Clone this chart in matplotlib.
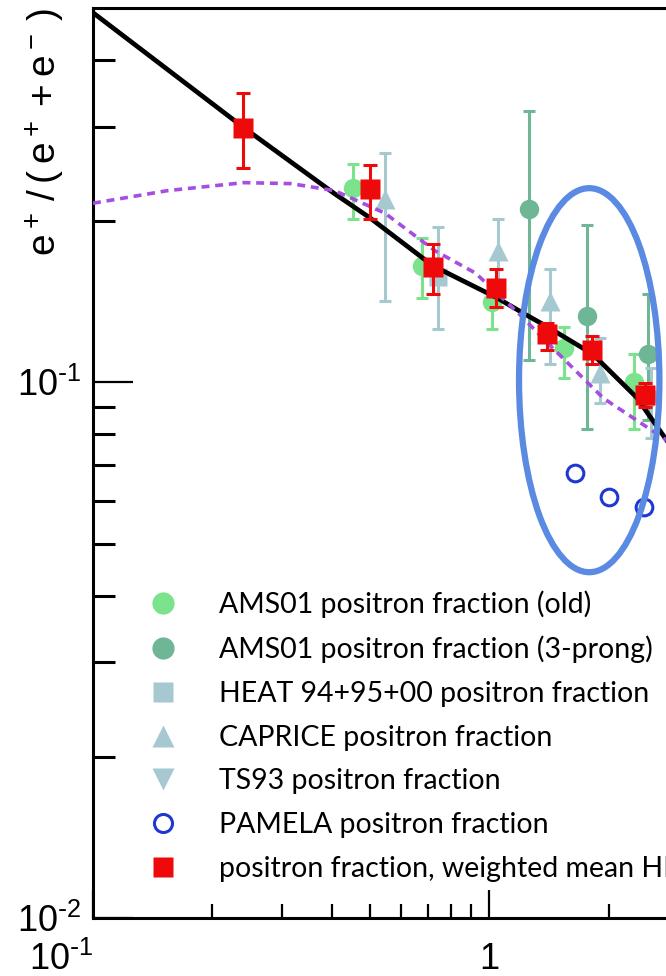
import matplotlib
matplotlib.use("Agg")
import matplotlib.pyplot as plt
from matplotlib.lines import Line2D
from matplotlib.patches import Ellipse
from matplotlib.ticker import FixedLocator, FixedFormatter, NullFormatter

plt.rcParams['font.family'] = ['Liberation Sans', 'DejaVu Sans']
plt.rcParams['mathtext.default'] = 'regular'

# model curves
model_x = [0.1, 0.24, 0.407, 0.499, 0.721, 1.042, 1.21, 1.40, 1.82, 2.35, 2.80]
model_y = [0.490, 0.299, 0.225, 0.203, 0.165, 0.144, 0.135, 0.127, 0.113, 0.0938, 0.078]
dash_x = [0.1, 0.154, 0.24, 0.316, 0.407, 0.545, 0.73, 0.922, 1.18, 1.41, 1.94, 2.80]
dash_y = [0.216, 0.228, 0.236, 0.235, 0.228, 0.207, 0.176, 0.160, 0.135, 0.118, 0.0934, 0.078]

# AMS01 (old)
ams_old_x = [0.452, 0.676, 1.018, 1.54, 2.32]
ams_old_y = [0.231, 0.165, 0.141, 0.116, 0.100]
ams_old_lo = [0.202, 0.144, 0.126, 0.102, 0.082]
ams_old_hi = [0.256, 0.186, 0.147, 0.127, 0.113]

# AMS01 (3-prong)
ams3_x = [1.26, 1.76, 2.52]
ams3_y = [0.211, 0.133, 0.113]
ams3_lo = [0.110, 0.082, 0.085]
ams3_hi = [0.321, 0.197, 0.146]

# HEAT
heat_x = [0.74]
heat_y = [0.157]
heat_lo = [0.126]
heat_hi = [0.195]

# CAPRICE
cap_x = [0.545, 1.05, 1.42, 1.90]
cap_y = [0.220, 0.176, 0.142, 0.104]
cap_lo = [0.142, 0.138, 0.108, 0.0914]
cap_hi = [0.268, 0.202, 0.163, 0.121]

# TS93
ts_x = [2.56]
ts_y = [0.0926]
ts_lo = [0.0786]
ts_hi = [0.1066]

# PAMELA
pam_x = [1.64, 2.00, 2.46]
pam_y = [0.0676, 0.0610, 0.0585]

# weighted mean
wm_x = [0.239, 0.499, 0.721, 1.042, 1.40, 1.82, 2.47]
wm_y = [0.299, 0.230, 0.164, 0.150, 0.123, 0.115, 0.0946]
wm_lo = [0.251, 0.202, 0.146, 0.138, 0.115, 0.108, 0.0898]
wm_hi = [0.347, 0.255, 0.181, 0.163, 0.129, 0.122, 0.0996]

labels = ['AMS01 positron fraction (old)',
          'AMS01 positron fraction (3-prong)',
          'HEAT 94+95+00 positron fraction',
          'CAPRICE positron fraction',
          'TS93 positron fraction',
          'PAMELA positron fraction',
          'positron fraction, weighted mean HEAT+AMS01']

c_old = '#7be38c'
c_3p = '#6fb697'
c_lb = '#a6c9d1'
c_red = '#ee0a0a'
c_pam = '#2038d0'


def yerr(y, lo, hi):
    return [[a - b for a, b in zip(y, lo)], [b - a for a, b in zip(y, hi)]]


fig = plt.figure(figsize=(6.66, 9.76), dpi=100)
ax = fig.add_axes([93 / 666, 1 - 918 / 976, 573 / 666, 910 / 976])
ax.set_xscale('log')
ax.set_yscale('log')
ax.set_xlim(0.1, 2.79)
ax.set_ylim(0.01, 0.5)

eb = dict(linestyle='none', capsize=4, elinewidth=2.2, capthick=2.2, zorder=2)
ax.errorbar(ams3_x, ams3_y, yerr=yerr(ams3_y, ams3_lo, ams3_hi), marker='o', ms=14,
            color=c_3p, mec='none', **eb)
ax.errorbar(cap_x, cap_y, yerr=yerr(cap_y, cap_lo, cap_hi), marker='^', ms=15,
            color=c_lb, mec='none', **eb)
ax.errorbar(heat_x, heat_y, yerr=yerr(heat_y, heat_lo, heat_hi), marker='s', ms=13,
            color=c_lb, mec='none', **eb)
ax.errorbar(ts_x, ts_y, yerr=yerr(ts_y, ts_lo, ts_hi), marker='v', ms=15,
            color=c_lb, mec='none', **eb)
ax.errorbar(ams_old_x, ams_old_y, yerr=yerr(ams_old_y, ams_old_lo, ams_old_hi), marker='o',
            ms=14, color=c_old, mec='none', **eb)

ax.plot(model_x, model_y, color='black', lw=3.4, zorder=3)
ax.plot(dash_x, dash_y, color='#a64ee0', lw=2.6, ls=(0, (2.2, 1.6)), zorder=3)

ax.errorbar(wm_x, wm_y, yerr=yerr(wm_y, wm_lo, wm_hi), marker='s', ms=15, color=c_red,
            mec='none', linestyle='none', capsize=5, elinewidth=2.2, capthick=2.2, zorder=4)
ax.plot(pam_x, pam_y, 'o', ms=12, mfc='none', mec=c_pam, mew=2.2, zorder=4)

ax.add_patch(Ellipse((0.866, 0.591), 0.245, 0.422, transform=ax.transAxes,
                     fill=False, ec='#5a8ae2', lw=4.5, zorder=5, clip_on=False))

# axes styling
for s in ['left', 'bottom', 'top']:
    ax.spines[s].set_linewidth(2.2)
ax.spines['right'].set_visible(False)

ax.yaxis.set_major_locator(FixedLocator([0.01, 0.1]))
ax.yaxis.set_major_formatter(FixedFormatter(['10$^{\\text{-}2}$', '10$^{\\text{-}1}$']))
ax.yaxis.set_minor_locator(FixedLocator([0.02, 0.03, 0.04, 0.05, 0.06, 0.07, 0.08, 0.09,
                                         0.2, 0.3, 0.4]))
ax.yaxis.set_minor_formatter(NullFormatter())
ax.xaxis.set_major_locator(FixedLocator([0.1, 1]))
ax.xaxis.set_major_formatter(FixedFormatter(['10$^{\\text{-}1}$', '1']))
ax.xaxis.set_minor_locator(FixedLocator([0.2, 0.3, 0.4, 0.5, 0.6, 0.7, 0.8, 0.9, 2]))
ax.xaxis.set_minor_formatter(NullFormatter())

ax.tick_params(axis='y', which='major', direction='in', length=29, width=1.6,
               labelsize=26, pad=8)
ax.tick_params(axis='y', which='minor', direction='in', length=16, width=2.2)
ax.tick_params(axis='x', which='major', direction='in', length=20, width=1.6,
               labelsize=26, pad=17)
ax.tick_params(axis='x', which='minor', direction='in', length=10, width=1.6)
ax.tick_params(top=False, right=False, which='both')
xl = ax.get_xticklabels()
xl[0].set_horizontalalignment('right')

fig.text(45 / 666, 1 - 132 / 976, '$e^+\\,/\\,(\\,e^+ + e^-\\,)$', rotation=90,
         ha='center', va='center', fontsize=28)

# legend
handles = [
    Line2D([], [], ls='none', marker='o', ms=16, color=c_old, mec='none'),
    Line2D([], [], ls='none', marker='o', ms=16, color=c_3p, mec='none'),
    Line2D([], [], ls='none', marker='s', ms=15, color=c_lb, mec='none'),
    Line2D([], [], ls='none', marker='^', ms=16, color=c_lb, mec='none'),
    Line2D([], [], ls='none', marker='v', ms=16, color=c_lb, mec='none'),
    Line2D([], [], ls='none', marker='o', ms=13, mfc='none', mec=c_pam, mew=2.2),
    Line2D([], [], ls='none', marker='s', ms=15, color=c_red, mec='none'),
]
leg = ax.legend(handles, labels, loc='upper left', bbox_to_anchor=(0.080, 0.3725),
                frameon=False, handlelength=0.9, handletextpad=1.5,
                labelspacing=0.62, borderaxespad=0,
                prop={'family': ['Lato', 'DejaVu Sans'], 'size': 20.5})

fig.savefig('out.png', dpi=100)
